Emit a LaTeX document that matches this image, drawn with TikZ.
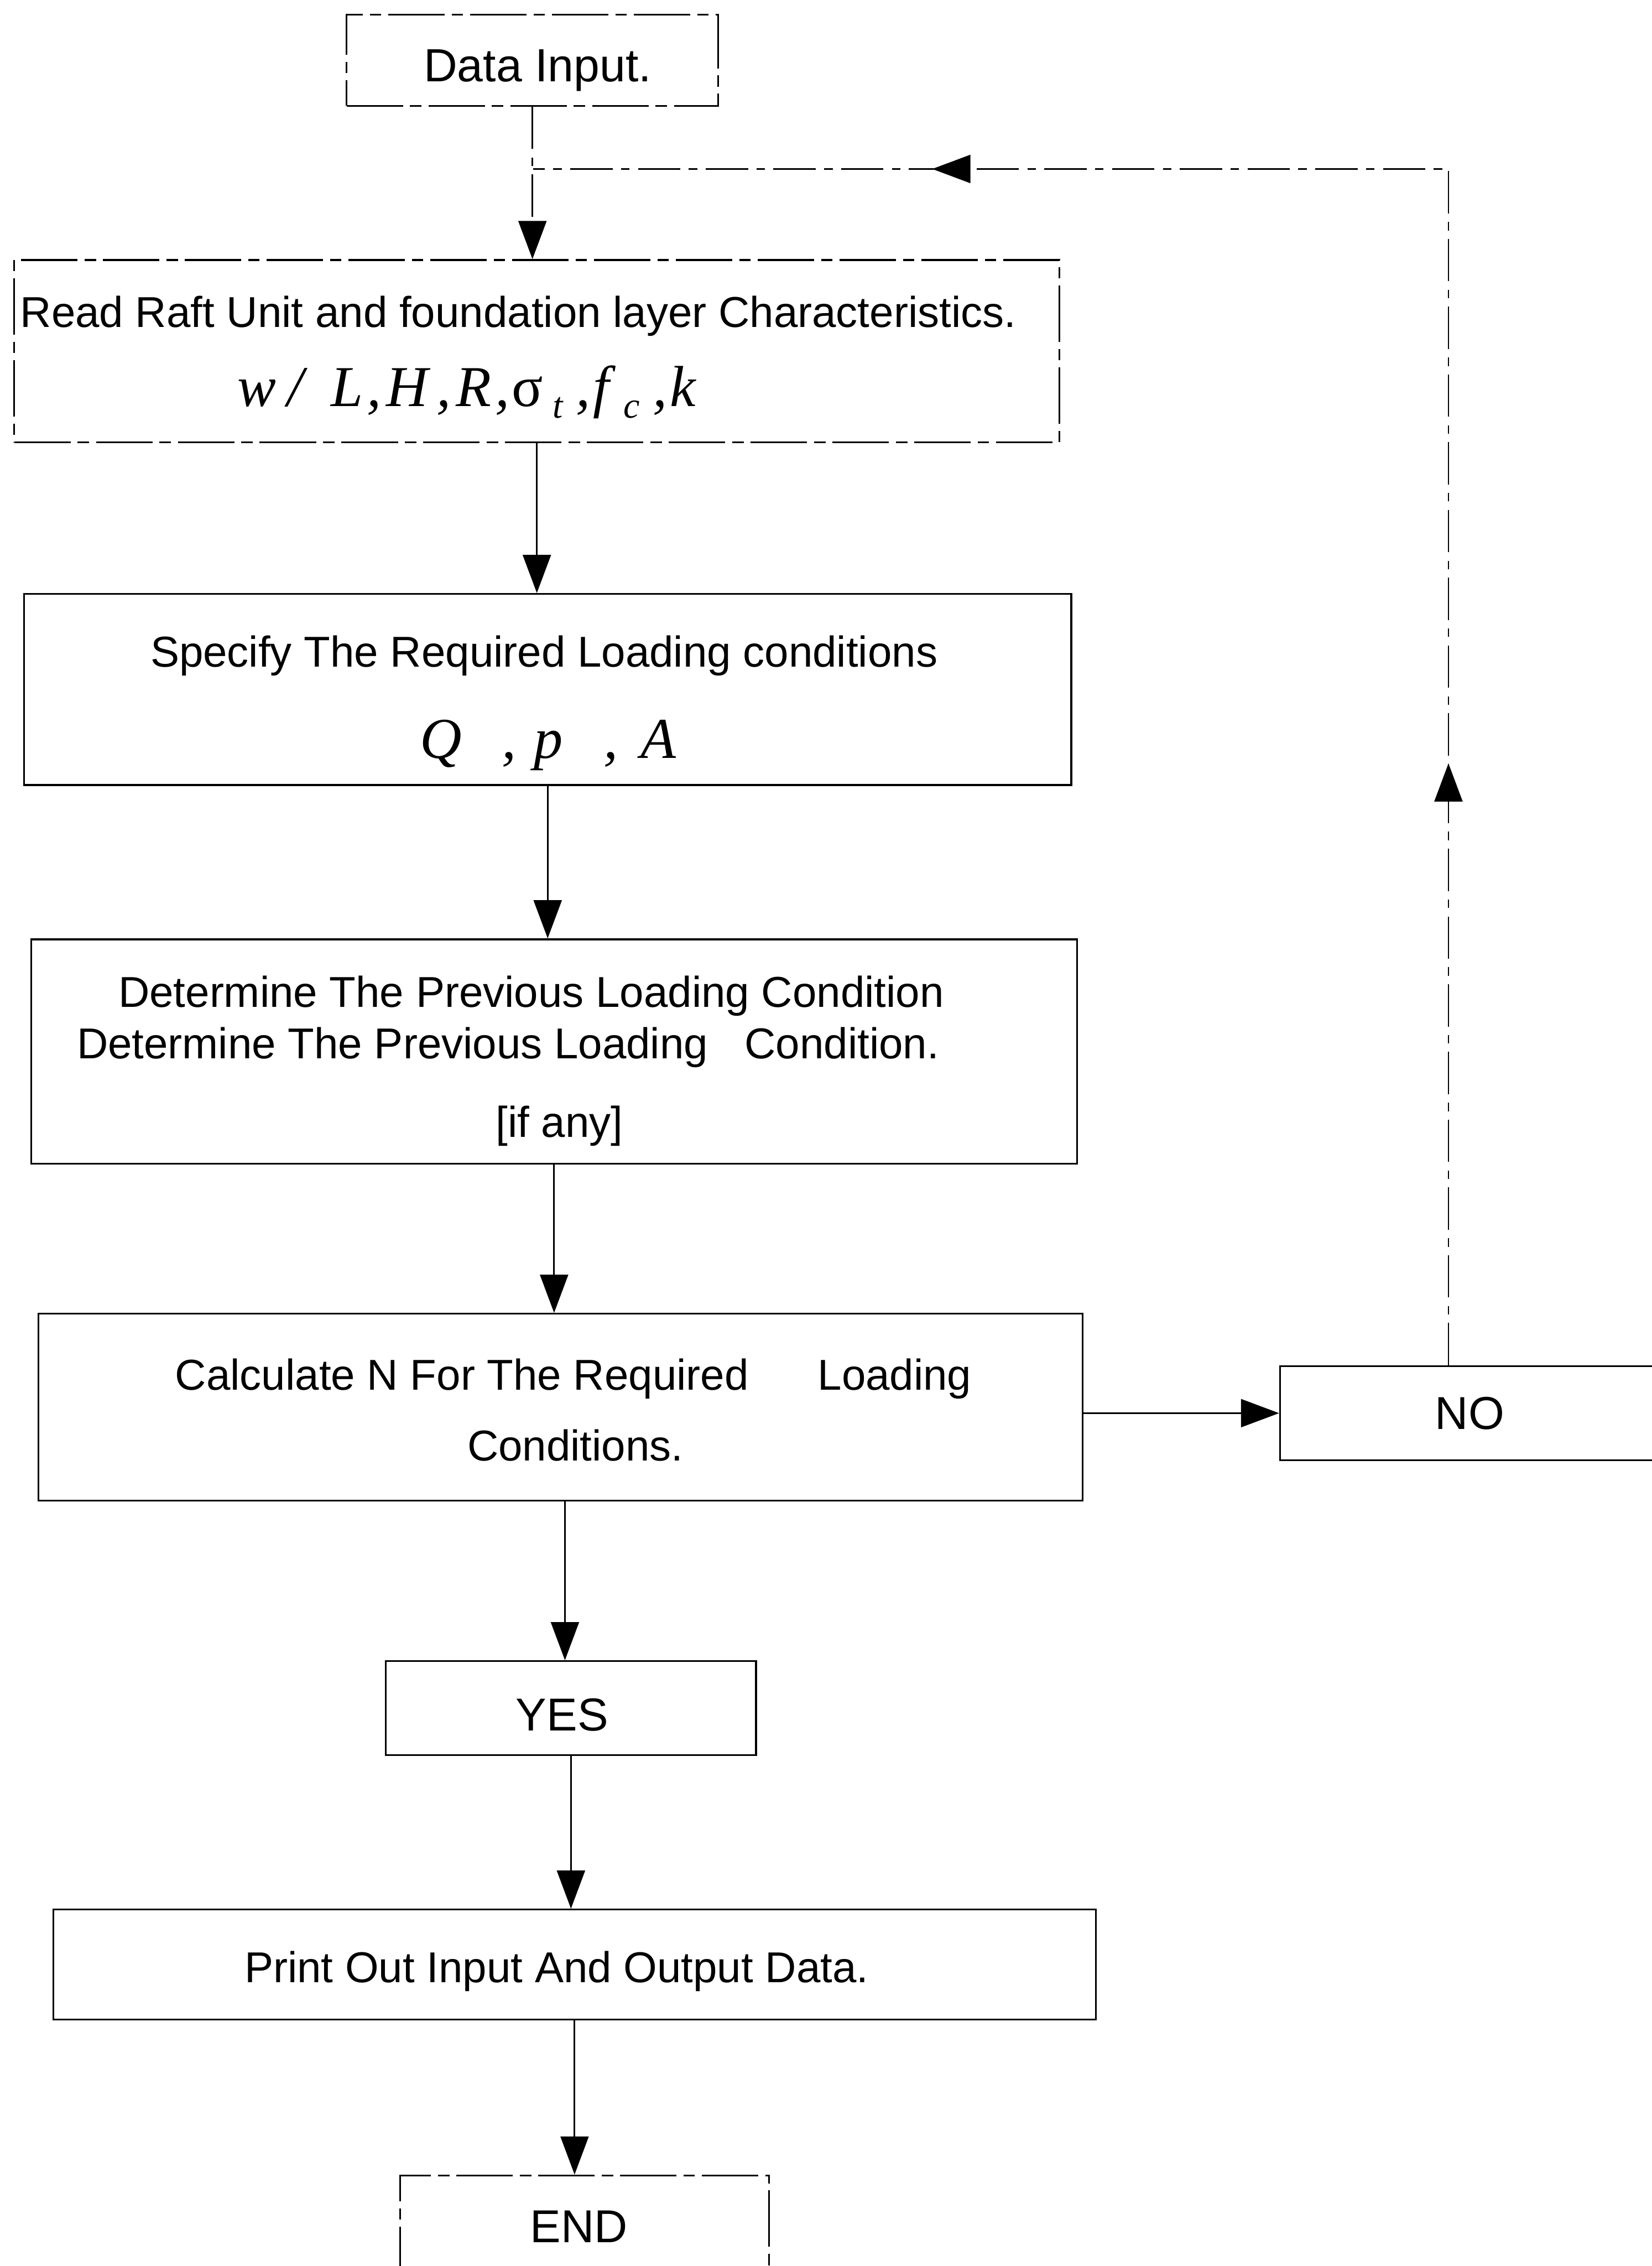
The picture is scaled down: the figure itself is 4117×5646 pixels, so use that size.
\documentclass[tikz,border=0pt]{standalone}
\usepackage{fontspec}
\setmainfont{Liberation Sans}
\newfontfamily\tnr{Liberation Serif}
\usetikzlibrary{arrows.meta,decorations.markings}
\newcommand\glat[2]{\rlap{\hspace*{\dimexpr #1mm/10\relax}#2}}
\newcommand\glsub[2]{\rlap{\hspace*{\dimexpr #1mm/10\relax}\raisebox{-0.3cm}{\fontsize{26pt}{30pt}\selectfont #2}}}
\begin{document}
\begin{tikzpicture}[x=0.01cm,y=-0.01cm,
  box/.style={draw,line width=1.3pt,rectangle,inner sep=0pt},
  dbox/.style={box,dash pattern=on 40pt off 5pt on 8pt off 5pt},
  tipA/.tip={Triangle[length=0.95cm,width=0.7cm]},
  conn/.style={line width=1.1pt,-tipA},
  dconn/.style={conn,dash pattern=on 30pt off 6pt on 6pt off 6pt},
  fb/.style={line width=1.1pt,dash pattern=on 30pt off 6pt on 6pt off 6pt,
    postaction={decorate},
    decoration={markings,
      mark=at position 0.285 with {\arrow{tipA}},
      mark=at position 0.811 with {\arrow{tipA}}}},
  txt/.style={inner sep=0pt,font=\fontsize{30.6pt}{36pt}\selectfont},
  bigtxt/.style={inner sep=0pt,font=\fontsize{32.7pt}{38pt}\selectfont},
  mth/.style={inner sep=0pt,font=\fontsize{41pt}{48pt}\selectfont\tnr\itshape},
]
\useasboundingbox (0,0) rectangle (4117,5646);

% boxes
\node[dbox,minimum width=9.26cm,minimum height=2.27cm] (di) at (1327,150) {};
\node[dbox,minimum width=26.04cm,minimum height=4.54cm] (b2) at (1338,875) {};
\node[box,minimum width=26.08cm,minimum height=4.76cm] (b3) at (1365,1718) {};
\node[box,minimum width=26.05cm,minimum height=5.59cm] (b4) at (1381,2620) {};
\node[box,minimum width=26.01cm,minimum height=4.65cm] (b5) at (1397,3506) {};
\node[box,minimum width=9.49cm,minimum height=2.34cm] (no) at (3665,3521) {};
\node[box,minimum width=9.22cm,minimum height=2.34cm] (yes) at (1423,4256) {};
\node[box,minimum width=25.97cm,minimum height=2.74cm] (pr) at (1432,4895) {};
\node[dbox,minimum width=9.18cm,minimum height=2.79cm] (en) at (1457,5560) {};

% texts
\node[inner sep=0pt,font=\fontsize{33pt}{38pt}\selectfont,anchor=base] (tdi) at (1340,204) {Data Input.};
\node[txt,anchor=base west] (t2a) at (50,816) {Read Raft Unit and foundation layer Characteristics.};
\node[mth,anchor=base west] (t2b) at (591,1012) {\glat{0}{w}\glat{124}{/}\glat{233}{L}\glat{323}{,}\glat{371}{H}\glat{497}{,}\glat{544}{R}\glat{643}{,}\glat{683}{\upshape σ}\glsub{786}{t}\glat{844}{,}\glat{886}{f}\glsub{962}{c}\glat{1035}{,}\glat{1078}{k}\hspace*{11.4cm}};
\node[txt,anchor=base] (t3a) at (1356,1662) {Specify The Required Loading conditions};
\node[mth,anchor=base west] (t3b) at (1046,1889) {\glat{0}{Q}\glat{204}{,}\glat{284}{p}\glat{457}{,}\glat{550}{A}\hspace*{6.4cm}};
\node[txt,anchor=base] (t4a) at (1324,2509) {Determine The Previous Loading Condition};
\node[txt,anchor=base west] (t4b) at (191,2638) {Determine The Previous Loading\hspace{26pt}Condition.};
\node[txt,anchor=base] (t4c) at (1394,2833) {[if any]};
\node[txt,anchor=base west] (t5a) at (436,3463) {Calculate N For The Required\hspace{49pt}Loading};
\node[txt,anchor=base] (t5b) at (1434,3640) {Conditions.};
\node[bigtxt,anchor=base] (tno) at (3663,3561) {NO};
\node[bigtxt,anchor=base] (tyes) at (1401,4313) {YES};
\node[txt,anchor=base] (tpr) at (1387,4940) {Print Out Input And Output Data.};
\node[bigtxt,anchor=base] (ten) at (1443,5588) {END};

% connectors
\coordinate (join) at (1329,421);
\coordinate (fbx) at (3610,0);
\coordinate (fbstart) at (fbx |- no.north);
\coordinate (corner) at (fbx |- join);
\draw[dconn] (di.south) -- (di.south |- b2.north);
\draw[fb] (fbstart) -- (corner) -- (join);
\draw[conn] (b2.south) -- (b2.south |- b3.north);
\draw[conn] (b3.south) -- (b3.south |- b4.north);
\draw[conn] (b4.south) -- (b4.south |- b5.north);
\draw[conn] (b5.east |- no.west) -- (no.west);
\draw[conn] ([xshift=0.11cm]b5.south) -- ([xshift=0.11cm]b5.south |- yes.north);
\draw[conn] (yes.south) -- (yes.south |- pr.north);
\draw[conn] (pr.south) -- (pr.south |- en.north);
\end{tikzpicture}
\end{document}
